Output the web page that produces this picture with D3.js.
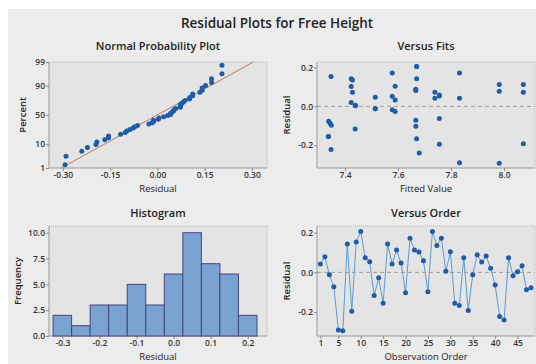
<!DOCTYPE html>
<html><head><meta charset="utf-8">
<script src="https://cdn.jsdelivr.net/npm/d3@7"></script>
<style>
html,body{margin:0;padding:0;background:#fff;}
svg{display:block;}
text{font-family:"Open Sans","Noto Sans",sans-serif;}
</style></head>
<body>
<svg id="c" width="536" height="364"></svg>
<script>
// ---- data ----
const mainTitle = "Residual Plots for Free Height";
const residuals = [0.042,0.078,-0.012,-0.072,-0.290,-0.293,0.142,-0.195,0.153,0.205,
  0.073,0.053,-0.117,-0.027,-0.155,0.142,0.042,0.112,0.047,-0.102,
  0.172,0.112,0.102,0.058,-0.097,0.205,0.135,0.172,0.005,0.103,
  -0.155,-0.167,0.073,-0.192,-0.012,0.088,0.052,0.082,0.020,-0.063,
  -0.222,-0.240,0.073,-0.017,0.003,0.033,-0.087,-0.077];
const fittedValues = [7.739,7.982,7.514,7.667,7.832,7.982,7.423,7.756,7.347,7.670,
  7.739,7.756,7.438,7.589,7.337,7.670,7.832,7.982,7.514,7.667,
  7.578,8.073,7.423,7.756,7.348,7.670,7.428,7.832,7.439,7.589,
  7.337,7.670,7.428,8.073,7.514,7.667,7.578,7.667,7.423,7.756,
  7.347,7.680,8.073,7.578,7.439,7.589,7.343,7.338];
const histBinMids = [-0.30,-0.25,-0.20,-0.15,-0.10,-0.05,0.00,0.05,0.10,0.15,0.20];
const histCounts  = [2,1,3,3,5,3,6,10,7,6,2];
const nppXTicks = [-0.30,-0.15,0.00,0.15,0.30];
const nppYTicks = [1,10,50,90,99];
const fitsXTicks = [7.4,7.6,7.8,8.0];
const residTicks = [-0.2,0.0,0.2];
const histXTicks = [-0.3,-0.2,-0.1,0.0,0.1,0.2];
const histYTicks = [0,2.5,5,7.5,10];
const orderTicks = [1,5,10,15,20,25,30,35,40,45];

// ---- helpers ----
function probit(p){
  const a=[-3.969683028665376e+01,2.209460984245205e+02,-2.759285104469687e+02,1.383577518672690e+02,-3.066479806614716e+01,2.506628277459239e+00];
  const b=[-5.447609879822406e+01,1.615858368580409e+02,-1.556989798598866e+02,6.680131188771972e+01,-1.328068155288572e+01];
  const c=[-7.784894002430293e-03,-3.223964580411365e-01,-2.400758277161838e+00,-2.549732539343734e+00,4.374664141464968e+00,2.938163982698783e+00];
  const d=[7.784695709041462e-03,3.224671290700398e-01,2.445134137142996e+00,3.754408661907416e+00];
  const pl=0.02425, ph=1-pl; let q,r;
  if(p<pl){q=Math.sqrt(-2*Math.log(p));return (((((c[0]*q+c[1])*q+c[2])*q+c[3])*q+c[4])*q+c[5])/((((d[0]*q+d[1])*q+d[2])*q+d[3])*q+1);}
  if(p<=ph){q=p-0.5;r=q*q;return (((((a[0]*r+a[1])*r+a[2])*r+a[3])*r+a[4])*r+a[5])*q/(((((b[0]*r+b[1])*r+b[2])*r+b[3])*r+b[4])*r+1);}
  q=Math.sqrt(-2*Math.log(1-p));return -(((((c[0]*q+c[1])*q+c[2])*q+c[3])*q+c[4])*q+c[5])/((((d[0]*q+d[1])*q+d[2])*q+d[3])*q+1);
}

const svg = d3.select("#c");
const C = {outer:"#ececec", inner:"#e4e4e4", dot:"#1f5ca8", txt:"#222", tick:"#333"};

svg.append("rect").attr("x",8).attr("y",9).attr("width",528).attr("height",355).attr("fill",C.outer);
svg.append("text").attr("x",277).attr("y",28).attr("text-anchor","middle")
  .attr("font-size",13.5).attr("font-weight",600).attr("fill",C.txt).text(mainTitle);

function panel(x0,x1,y0,y1,title,titleY,xLabel,xLabelY,yLabel,yLabelX){
  const g = svg.append("g");
  g.append("rect").attr("x",x0).attr("y",y0).attr("width",x1-x0).attr("height",y1-y0)
    .attr("fill",C.inner).attr("stroke","#b4b4b4").attr("stroke-dasharray","1,1");
  g.append("line").attr("x1",x0).attr("x2",x0).attr("y1",y0).attr("y2",y1).attr("stroke","#a6a6a6");
  g.append("line").attr("x1",x0).attr("x2",x1).attr("y1",y1).attr("y2",y1).attr("stroke","#a6a6a6");
  svg.append("text").attr("x",(x0+x1)/2).attr("y",titleY).attr("text-anchor","middle")
    .attr("font-size",11).attr("font-weight",600).attr("fill",C.txt).text(title);
  svg.append("text").attr("x",(x0+x1)/2).attr("y",xLabelY).attr("text-anchor","middle")
    .attr("font-size",9.5).attr("font-weight",500).attr("fill",C.txt).text(xLabel);
  svg.append("text").attr("transform",`translate(${yLabelX},${(y0+y1)/2}) rotate(-90)`).attr("text-anchor","middle")
    .attr("font-size",9.5).attr("font-weight",600).attr("fill",C.txt).text(yLabel);
  return g;
}
function styleAxis(sel){
  sel.select(".domain").remove();
  sel.selectAll(".tick line").attr("stroke","#888");
  sel.selectAll(".tick text").attr("fill",C.tick).attr("font-size",8.5).attr("font-weight",600)
    .attr("font-family",'"Open Sans","Noto Sans",sans-serif');
}
function axes(xs,ys,x0,y1,xTicks,xFmt,yTicks,yFmt){
  const gx = svg.append("g").attr("transform",`translate(0,${y1})`)
    .call(d3.axisBottom(xs).tickValues(xTicks).tickFormat(xFmt).tickSize(3).tickPadding(1));
  styleAxis(gx);
  const gy = svg.append("g").attr("transform",`translate(${x0},0)`)
    .call(d3.axisLeft(ys).tickValues(yTicks).tickFormat(yFmt).tickSize(3).tickPadding(1));
  styleAxis(gy);
}
function refLine(xs,ys,x0,x1){
  svg.append("line").attr("x1",x0).attr("x2",x1).attr("y1",ys(0)).attr("y2",ys(0))
    .attr("stroke","#9a9a9a").attr("stroke-dasharray","4,3").attr("stroke-width",1);
}

// ---- Normal probability plot ----
{
  const x0=49,x1=267,y0=62,y1=168;
  panel(x0,x1,y0,y1,"Normal Probability Plot",50,"Residual",192,"Percent",26);
  const xs=d3.scaleLinear().domain([-0.344,0.348]).range([x0,x1]);
  const zs=d3.scaleLinear().domain([probit(0.01),probit(0.99)]).range([y1,y0]);
  const ys=p=>zs(probit(p/100));
  const zTicks=nppYTicks.map(p=>probit(p/100));
  axes(xs,zs,x0,y1,nppXTicks,d=>d.toFixed(2),zTicks,(d,i)=>String(nppYTicks[i]));
  const n=residuals.length;
  const sorted=residuals.slice().sort(d3.ascending);
  const mu=d3.mean(residuals), sd=d3.deviation(residuals);
  svg.append("line").attr("x1",xs(mu+sd*probit(0.01))).attr("y1",ys(1))
    .attr("x2",xs(mu+sd*probit(0.99))).attr("y2",ys(99))
    .attr("stroke","#b9795d").attr("stroke-width",1);
  svg.append("g").selectAll("circle").data(sorted).join("circle")
    .attr("cx",d=>xs(d)).attr("cy",(d,i)=>ys(100*(i+1-0.3)/(n+0.4))).attr("r",2.5).attr("fill",C.dot);
}

// ---- Versus fits ----
{
  const x0=317,x1=535,y0=62,y1=168;
  panel(x0,x1,y0,y1,"Versus Fits",50,"Fitted Value",192,"Residual",290);
  const xs=d3.scaleLinear().domain([7.294,8.117]).range([x0,x1]);
  const ys=d3.scaleLinear().domain([-0.317,0.228]).range([y1,y0]);
  axes(xs,ys,x0,y1,fitsXTicks,d=>d.toFixed(1),residTicks,d=>d.toFixed(1));
  refLine(xs,ys,x0,x1);
  svg.append("g").selectAll("circle").data(residuals).join("circle")
    .attr("cx",(d,i)=>xs(fittedValues[i])).attr("cy",d=>ys(d)).attr("r",2.5).attr("fill",C.dot);
}

// ---- Histogram ----
{
  const x0=49,x1=267,y0=226,y1=336;
  panel(x0,x1,y0,y1,"Histogram",217,"Residual",360,"Frequency",21);
  const xs=d3.scaleLinear().domain([-0.336,0.252]).range([x0,x1]);
  const ys=d3.scaleLinear().domain([0,10.65]).range([y1,y0]);
  axes(xs,ys,x0,y1,histXTicks,d=>d.toFixed(1),histYTicks,d=>d.toFixed(1));
  svg.append("g").selectAll("rect").data(histCounts).join("rect")
    .attr("x",(d,i)=>xs(histBinMids[i]-0.025)).attr("width",(d,i)=>xs(histBinMids[i]+0.025)-xs(histBinMids[i]-0.025))
    .attr("y",d=>ys(d)).attr("height",d=>ys(0)-ys(d))
    .attr("fill","#7aa3d4").attr("stroke","#45457a").attr("stroke-width",1);
}

// ---- Versus order ----
{
  const x0=317,x1=535,y0=226,y1=336;
  panel(x0,x1,y0,y1,"Versus Order",217,"Observation Order",360,"Residual",290);
  const xs=d3.scaleLinear().domain([0.24,48.9]).range([x0,x1]);
  const ys=d3.scaleLinear().domain([-0.32,0.233]).range([y1,y0]);
  axes(xs,ys,x0,y1,orderTicks,d=>String(d),residTicks,d=>d.toFixed(1));
  refLine(xs,ys,x0,x1);
  svg.append("path").datum(residuals)
    .attr("d",d3.line().x((d,i)=>xs(i+1)).y(d=>ys(d)))
    .attr("fill","none").attr("stroke","#5b9bd5").attr("stroke-width",1);
  svg.append("g").selectAll("circle").data(residuals).join("circle")
    .attr("cx",(d,i)=>xs(i+1)).attr("cy",d=>ys(d)).attr("r",2.5).attr("fill",C.dot);
}
</script>
</body></html>
